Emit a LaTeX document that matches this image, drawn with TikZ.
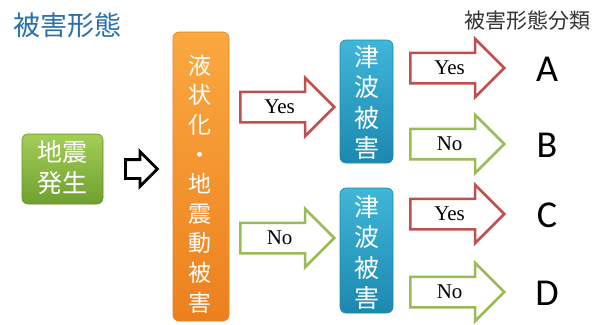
\documentclass[tikz,border=0pt]{standalone}
\usepackage{fontspec}
\newfontfamily\cjk{Noto Sans CJK JP}
\newfontfamily\serifyes{Liberation Serif}
\newfontfamily\carl{Carlito}
\usetikzlibrary{shapes.arrows}
\definecolor{titleblue}{RGB}{42,112,172}
\definecolor{yesred}{RGB}{192,80,77}
\definecolor{nogreen}{RGB}{155,187,89}
\definecolor{gtop}{RGB}{163,206,86}
\definecolor{gbot}{RGB}{112,160,48}
\definecolor{otop}{RGB}{250,168,64}
\definecolor{obot}{RGB}{236,128,30}
\definecolor{btop}{RGB}{64,182,216}
\definecolor{bbot}{RGB}{28,136,176}
\tikzset{
  box/.style={rounded corners=6pt, inner sep=0pt},
  boxtext/.style={text=white, align=center, inner sep=0pt},
  bigarrow/.style={single arrow, fill=white, line width=2.5pt, minimum height=94pt,
    single arrow head extend=14pt, text height=13pt, text depth=0pt, inner ysep=7.5pt,
    inner xsep=2pt, font=\serifyes\fontsize{21}{21}\selectfont},
  yesarrow/.style={bigarrow, draw=yesred},
  noarrow/.style={bigarrow, draw=nogreen},
  result/.style={font=\carl\fontsize{38}{38}\selectfont, inner sep=0pt}
}
\begin{document}
\begin{tikzpicture}[x=1pt,y=-1pt]
\useasboundingbox[fill=white] (0,0) rectangle (602,324);
% titles
\node[font=\cjk\fontsize{27}{27}\selectfont, text=titleblue, inner sep=0pt] (title) at (67,25) {被害形態};
\node[font=\cjk\fontsize{21}{21}\selectfont, text=black!80, inner sep=0pt] (cls) at (527,21) {被害形態分類};
% green box
\node[box, top color=gtop, bottom color=gbot, draw=gbot!90!black, line width=0.6pt,
  minimum width=81pt, minimum height=70pt] (quake) at (62.5,169) {};
\node[boxtext, font=\cjk\fontsize{25}{31}\selectfont] (quaketext) at (62.5,168) {地震\\発生};
% black arrow
\node[single arrow, draw=black, fill=white, line width=2.8pt, minimum height=32pt,
  single arrow head extend=8pt, inner ysep=8pt, inner xsep=0pt, anchor=tail] (a0) at (124,169) {};
% orange box
\node[box, top color=otop, bottom color=obot, draw=obot, line width=0.6pt,
  minimum width=56pt, minimum height=289pt] (liq) at (201,176.5) {};
\node[boxtext, font=\cjk\fontsize{23}{29.6}\selectfont] (liqtext) at (200,184)
  {液\\状\\化\\・\\地\\震\\動\\被\\害};
% blue boxes
\node[box, top color=btop, bottom color=bbot, draw=bbot, line width=0.6pt,
  minimum width=53pt, minimum height=123pt] (tsu1) at (366.5,101.5) {};
\node[boxtext, font=\cjk\fontsize{25}{30.5}\selectfont] (tsu1text) at (366.5,102.5) {津\\波\\被\\害};
\node[box, top color=btop, bottom color=bbot, draw=bbot, line width=0.6pt,
  minimum width=53pt, minimum height=125pt] (tsu2) at (366.5,250.5) {};
\node[boxtext, font=\cjk\fontsize{25}{30.5}\selectfont] (tsu2text) at (366.5,252.5) {津\\波\\被\\害};
% middle arrows
\node[yesarrow, anchor=tail] (y1) at (239,107) {Yes};
\node[noarrow, anchor=tail] (n1) at (239,238) {No};
% right arrows
\node[yesarrow, anchor=tail] (ya) at (409,68) {Yes};
\node[noarrow, anchor=tail] (nb) at (409,144) {No};
\node[yesarrow, anchor=tail] (yc) at (409,214) {Yes};
\node[noarrow, anchor=tail] (nd) at (409,292) {No};
% results
\node[result] (A) at (547,69) {A};
\node[result] (B) at (547,145) {B};
\node[result] (C) at (547,215) {C};
\node[result] (D) at (547,293) {D};
\end{tikzpicture}
\end{document}
